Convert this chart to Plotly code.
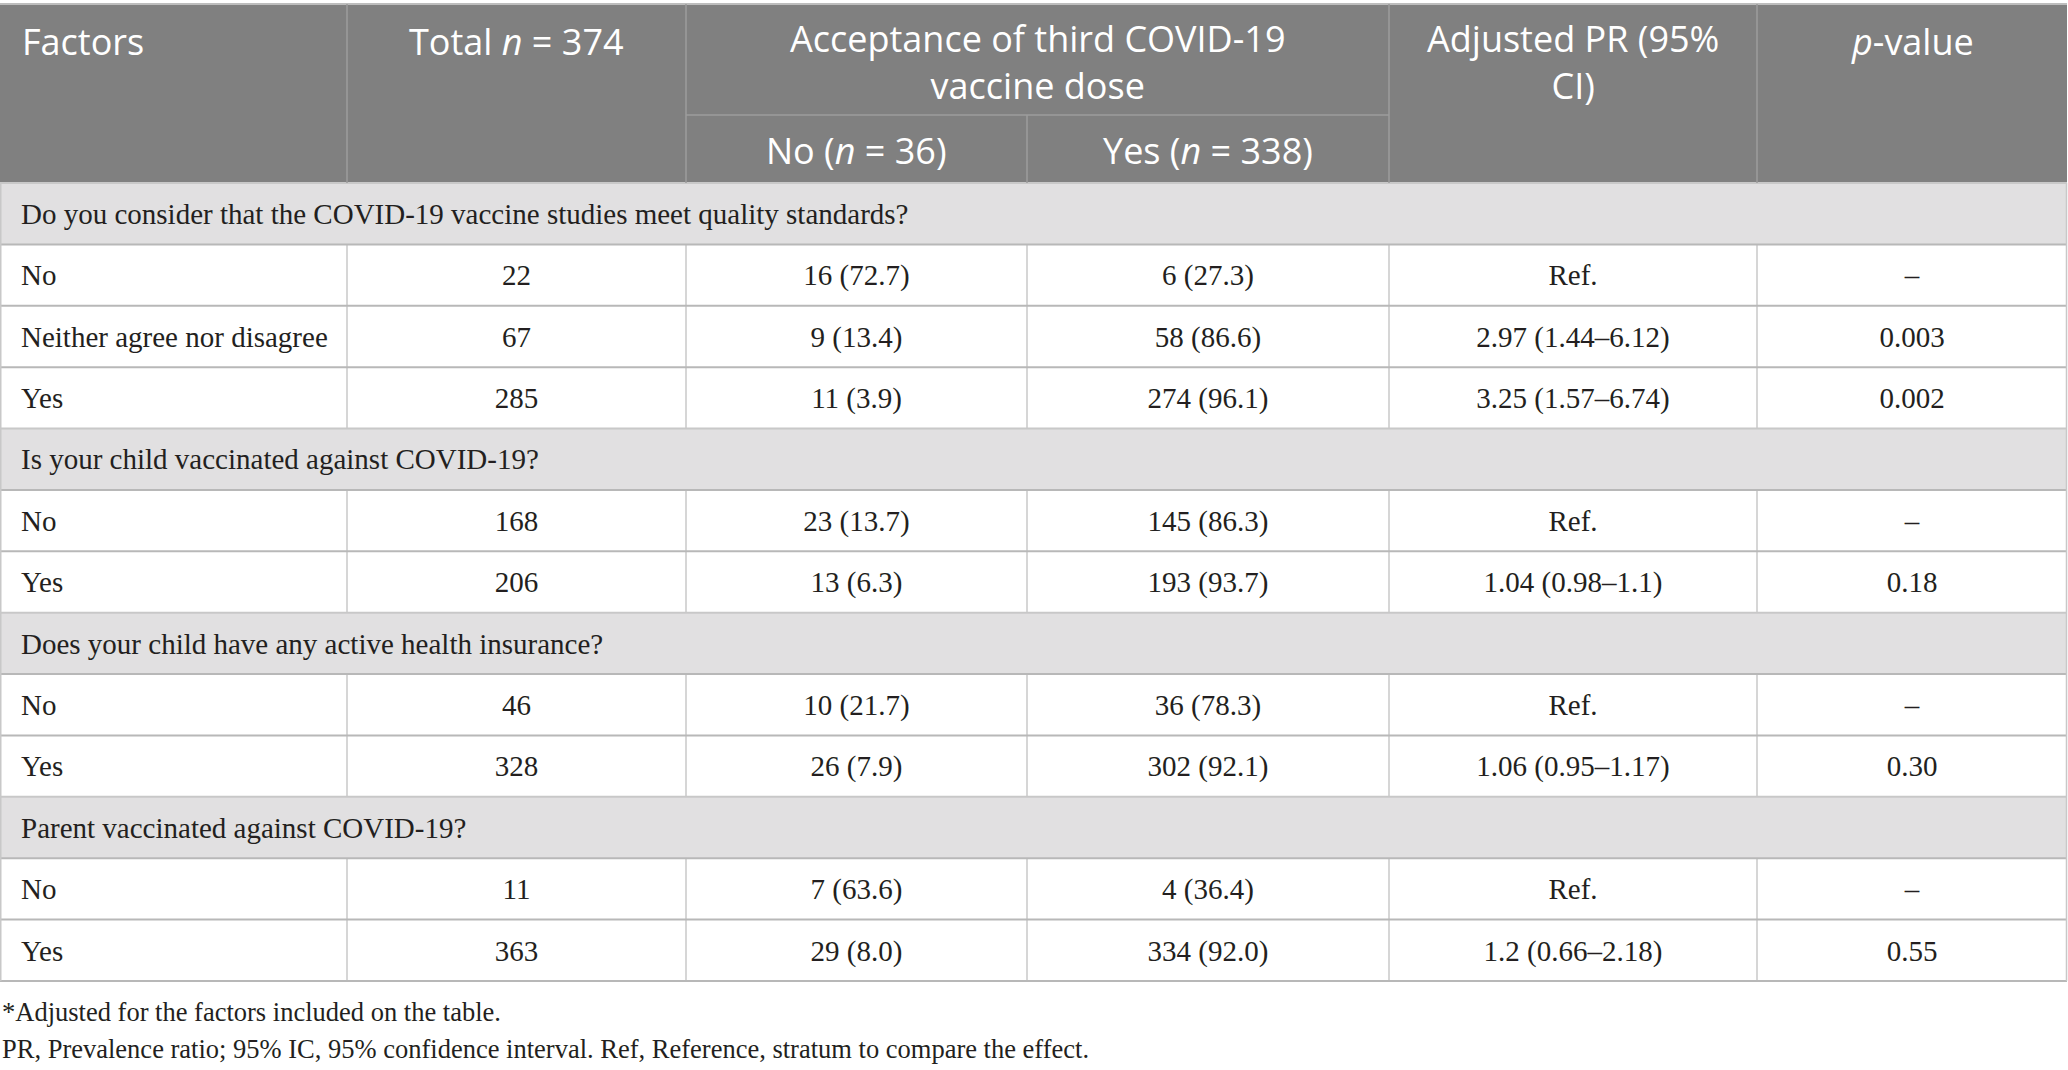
"""Table: factors associated with acceptance of a third COVID-19 vaccine dose."""
import plotly.graph_objects as go

# ---- data ----------------------------------------------------------------
questions = [
    "Do you consider that the COVID-19 vaccine studies meet quality standards?",
    "Is your child vaccinated against COVID-19?",
    "Does your child have any active health insurance?",
    "Parent vaccinated against COVID-19?",
]
row_group = [0, 0, 0, 1, 1, 2, 2, 3, 3]
row_factor = ["No", "Neither agree nor disagree", "Yes", "No", "Yes", "No", "Yes", "No", "Yes"]
total_n = [22, 67, 285, 168, 206, 46, 328, 11, 363]
no_n = [16, 9, 11, 23, 13, 10, 26, 7, 29]
no_pct = [72.7, 13.4, 3.9, 13.7, 6.3, 21.7, 7.9, 63.6, 8.0]
yes_n = [6, 58, 274, 145, 193, 36, 302, 4, 334]
yes_pct = [27.3, 86.6, 96.1, 86.3, 93.7, 78.3, 92.1, 36.4, 92.0]
adj_pr = ["Ref.", "2.97 (1.44–6.12)", "3.25 (1.57–6.74)", "Ref.", "1.04 (0.98–1.1)",
          "Ref.", "1.06 (0.95–1.17)", "Ref.", "1.2 (0.66–2.18)"]
p_value = ["–", "0.003", "0.002", "–", "0.18", "–", "0.30", "–", "0.55"]
footnotes = [
    "*Adjusted for the factors included on the table.",
    "PR, Prevalence ratio; 95% IC, 95% confidence interval. Ref, Reference, stratum to compare the effect.",
]

# ---- layout constants ----------------------------------------------------
W, H = 2068, 1070
col_edges = [0, 347, 686, 1027, 1389, 1757, 2067]
head_top, head_mid, head_bot = 4, 115, 183
row_h = (981 - head_bot) / 13
HEAD_BG, GROUP_BG, LINE = "#808080", "#e1e0e1", "#c8c8c8"
TXT = "#231f20"
SERIF = "Liberation Serif"
SANS = "Open Sans"

# build visual row order: group header followed by its levels
slots = []  # (kind, index)
for g in range(len(questions)):
    slots.append(("group", g))
    slots += [("row", i) for i, rg in enumerate(row_group) if rg == g]

fig = go.Figure()
shapes = [dict(type="rect", x0=0, x1=col_edges[-1], y0=head_top, y1=head_bot,
               fillcolor=HEAD_BG, line_width=0, layer="below")]

row_y = {}
group_y = []
for s, (kind, idx) in enumerate(slots):
    y0 = head_bot + s * row_h
    y1 = y0 + row_h
    if kind == "group":
        group_y.append((y0 + y1) / 2 + 3)
        shapes.append(dict(type="rect", x0=0, x1=col_edges[-1], y0=y0, y1=y1,
                           fillcolor=GROUP_BG, line_width=0, layer="below"))
    else:
        row_y[idx] = (y0 + y1) / 2 + 3
        for xe in col_edges[1:-1]:
            shapes.append(dict(type="line", x0=xe, x1=xe, y0=y0, y1=y1,
                               line=dict(color=LINE, width=1.5)))
    shapes.append(dict(type="line", x0=0, x1=col_edges[-1], y0=y0, y1=y0,
                       line=dict(color="#b8b8b8" if kind == "row" else LINE, width=2)))
shapes.append(dict(type="line", x0=0, x1=col_edges[-1], y0=981, y1=981,
                   line=dict(color="#b8b8b8", width=2)))
shapes.append(dict(type="line", x0=0, x1=col_edges[-1], y0=head_top, y1=head_top,
                   line=dict(color="#bdbdbd", width=2)))
for xe in (0.75, col_edges[-1] - 0.5):
    shapes.append(dict(type="line", x0=xe, x1=xe, y0=head_bot, y1=981,
                       line=dict(color=LINE, width=1.5)))

# header dividers
for xe in (col_edges[1], col_edges[2], col_edges[4], col_edges[5]):
    shapes.append(dict(type="line", x0=xe, x1=xe, y0=head_top, y1=head_bot,
                       line=dict(color="#9c9c9c", width=1.5)))
shapes.append(dict(type="line", x0=col_edges[3], x1=col_edges[3], y0=head_mid, y1=head_bot,
                   line=dict(color="#9c9c9c", width=1.5)))
shapes.append(dict(type="line", x0=col_edges[2], x1=col_edges[4], y0=head_mid, y1=head_mid,
                   line=dict(color="#9c9c9c", width=1.5)))

# ---- body text -----------------------------------------------------------
def centre(c):
    return (col_edges[c] + col_edges[c + 1]) / 2

ys = [row_y[i] for i in range(len(row_factor))]
body_font = dict(family=SERIF, size=29, color=TXT)
fig.add_trace(go.Scatter(x=[21] * len(ys), y=ys, text=row_factor, mode="text",
                         textposition="middle right", textfont=body_font))
columns = [
    [str(v) for v in total_n],
    [f"{n} ({p:.1f})" for n, p in zip(no_n, no_pct)],
    [f"{n} ({p:.1f})" for n, p in zip(yes_n, yes_pct)],
    adj_pr,
    p_value,
]
for c, vals in enumerate(columns, start=1):
    fig.add_trace(go.Scatter(x=[centre(c)] * len(ys), y=ys, text=vals, mode="text",
                             textposition="middle center", textfont=body_font))

fig.add_trace(go.Scatter(x=[21] * len(group_y), y=group_y, text=questions, mode="text",
                         textposition="middle right", textfont=body_font))

# ---- header text ---------------------------------------------------------
head_font = dict(family=SANS, size=36, color="white")
acc_x = (col_edges[2] + col_edges[4]) / 2
annotations = [
    dict(x=21, y=41, text="Factors", xanchor="left"),
    dict(x=centre(1), y=41, text="Total <i>n</i> = 374", xanchor="center"),
    dict(x=acc_x, y=62, text="Acceptance of third COVID-19<br>vaccine dose", xanchor="center"),
    dict(x=centre(2), y=150, text="No (<i>n</i> = 36)", xanchor="center"),
    dict(x=centre(3), y=150, text="Yes (<i>n</i> = 338)", xanchor="center"),
    dict(x=centre(4), y=62, text="Adjusted PR (95%<br>CI)", xanchor="center"),
    dict(x=centre(5), y=41, text="<i>p</i>-value", xanchor="center"),
]
for a in annotations:
    a.update(xref="x", yref="y", yanchor="middle", showarrow=False,
             font=head_font, borderpad=0)

for txt, yy in zip(footnotes, (1012, 1049)):
    annotations.append(dict(x=1, y=yy, text=txt, xref="x", yref="y", xanchor="left",
                            yanchor="middle", showarrow=False, borderpad=0,
                            font=dict(family=SERIF, size=26.5, color=TXT)))

fig.update_layout(
    width=W, height=H, margin=dict(l=0, r=0, t=0, b=0),
    paper_bgcolor="white", plot_bgcolor="white", showlegend=False,
    xaxis=dict(range=[0, W], visible=False, fixedrange=True),
    yaxis=dict(range=[H, 0], visible=False, fixedrange=True),
    shapes=shapes, annotations=annotations,
)
fig.write_html("out.html", config={"displayModeBar": False},
               post_script="document.body.style.margin='0';document.body.style.overflow='hidden';")
